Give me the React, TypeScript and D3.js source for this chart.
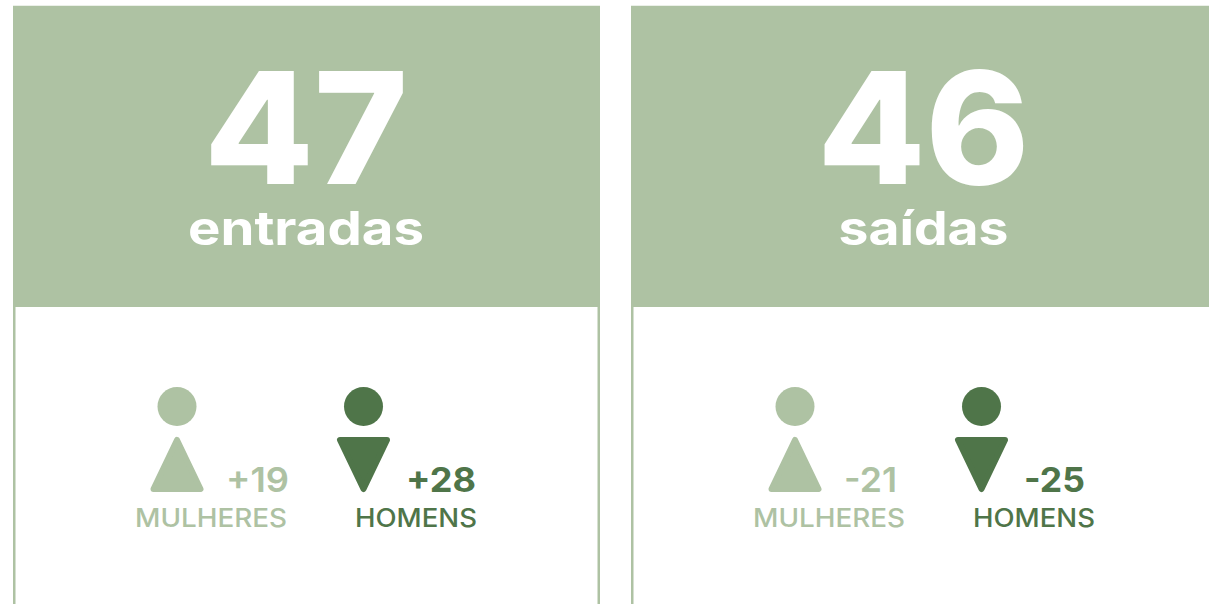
import React from "react";
import * as d3 from "d3";

const WIDTH = 1209;
const HEIGHT = 604;
const FONT = "Inter, 'Noto Sans', sans-serif";
const LIGHT = "#aec2a3";
const DARK = "#4f7549";

const panelTotals = [47, 46];
const panelTitles = ["entradas", "saídas"];
const womenValues = ["+19", "-21"];
const menValues = ["+28", "-25"];
const genderLabels = ["MULHERES", "HOMENS"];

const panelX = d3.scaleOrdinal<number, number>().domain([0, 1]).range([13, 631]);
const PANEL_W = 587;

const totalWidths = [196, 204];
const titleWidths = [233, 167];
const womenWidths = [60, 50];
const menWidths = [67, 58];
const labelWidths = [150, 120];

const triangle = d3.line<[number, number]>().curve(d3.curveLinearClosed);

function Person({ cx, up, color }: { cx: number; up: boolean; color: string }) {
  const top = 440;
  const bottom = 489;
  const half = 23.5;
  const pts: [number, number][] = up
    ? [[cx, top], [cx + half, bottom], [cx - half, bottom]]
    : [[cx - half, top], [cx + half, top], [cx, bottom]];
  return (
    <g>
      <circle cx={cx} cy={406.5} r={19.5} fill={color} />
      <path d={triangle(pts) ?? ""} fill={color} stroke={color} strokeWidth={6} strokeLinejoin="round" />
    </g>
  );
}

export default function App() {
  const fit = { lengthAdjust: "spacingAndGlyphs" as const };
  return (
    <svg
      width={WIDTH}
      height={HEIGHT}
      viewBox={`0 0 ${WIDTH} ${HEIGHT}`}
      style={{ position: "fixed", left: 0, top: 0, background: "#fff" }}
      fontFamily={FONT}
    >
      {panelTotals.map((total, i) => {
        const x = panelX(i);
        const w = i === 0 ? PANEL_W : WIDTH - x + 4;
        const mid = i === 0 ? 306 : 923.5;
        return (
          <g key={i}>
            <rect x={x + 1.25} y={7} width={w - 2.5} height={620} fill="#fff" stroke={LIGHT} strokeWidth={2.5} />
            <rect x={x} y={6} width={w} height={301} fill={LIGHT} />
            <text x={mid} y={184} textAnchor="middle" fontSize={156} fontWeight={800} fill="#fff" textLength={totalWidths[i] + 8} {...fit}>{total}</text>
            <text x={mid} y={245} textAnchor="middle" fontSize={47} fontWeight={700} fill="#fff" textLength={titleWidths[i] + 3} {...fit}>{panelTitles[i]}</text>
            <Person cx={x + 164} up color={LIGHT} />
            <Person cx={x + 350.5} up={false} color={DARK} />
            <text x={x + 213} y={491.5} fontSize={34} fontWeight={600} fill={LIGHT} textLength={womenWidths[i] + 3} {...fit}>{womenValues[i]}</text>
            <text x={x + 393} y={491.5} fontSize={34} fontWeight={700} fill={DARK} textLength={menWidths[i] + 3} {...fit}>{menValues[i]}</text>
            <text x={x + 122} y={527} fontSize={25} fontWeight={500} fill={LIGHT} textLength={labelWidths[0] + 2} {...fit}>{genderLabels[0]}</text>
            <text x={x + 342} y={527} fontSize={25} fontWeight={500} fill={DARK} textLength={labelWidths[1] + 2} {...fit}>{genderLabels[1]}</text>
          </g>
        );
      })}
    </svg>
  );
}
